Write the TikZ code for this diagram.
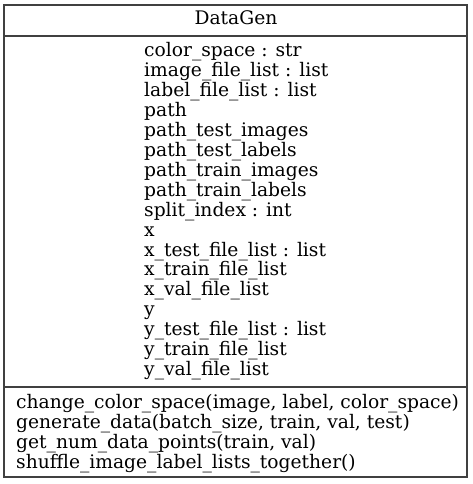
\documentclass[tikz,border=0pt]{standalone}
\usepackage{fontspec}
\setmainfont{DejaVu Serif}
\begin{document}
\begin{tikzpicture}[x=1pt,y=-1pt,
  member/.style={anchor=base west,inner sep=0pt,font=\fontsize{18.67}{20}\selectfont},
  title/.style={anchor=base,inner sep=0pt,font=\fontsize{18.67}{20}\selectfont},
  frame/.style={draw=black!75,line width=1.2pt}]
\useasboundingbox (0,0) rectangle (472,484);
% class box and compartments
\draw[frame] (4,5) rectangle (467,477);
\draw[frame] (4,36) -- (467,36);
\draw[frame] (4,387) -- (467,387);
% class name
\node[title] (name) at (236,25) {DataGen};
% attributes
\foreach \t [count=\i from 0] in {color\_space : str,image\_file\_list : list,label\_file\_list : list,path,path\_test\_images,path\_test\_labels,path\_train\_images,path\_train\_labels,split\_index : int,x,x\_test\_file\_list : list,x\_train\_file\_list,x\_val\_file\_list,y,y\_test\_file\_list : list,y\_train\_file\_list,y\_val\_file\_list}
  \node[member] (attr\i) at (144,{57+19.9*\i}) {\t};
% operations
\foreach \t [count=\i from 0] in {change\_color\_space(image{,} label{,} color\_space),generate\_data(batch\_size{,} train{,} val{,} test),get\_num\_data\_points(train{,} val),shuffle\_image\_label\_lists\_together()}
  \node[member] (op\i) at (16,{408+20*\i}) {\t};
\end{tikzpicture}
\end{document}
